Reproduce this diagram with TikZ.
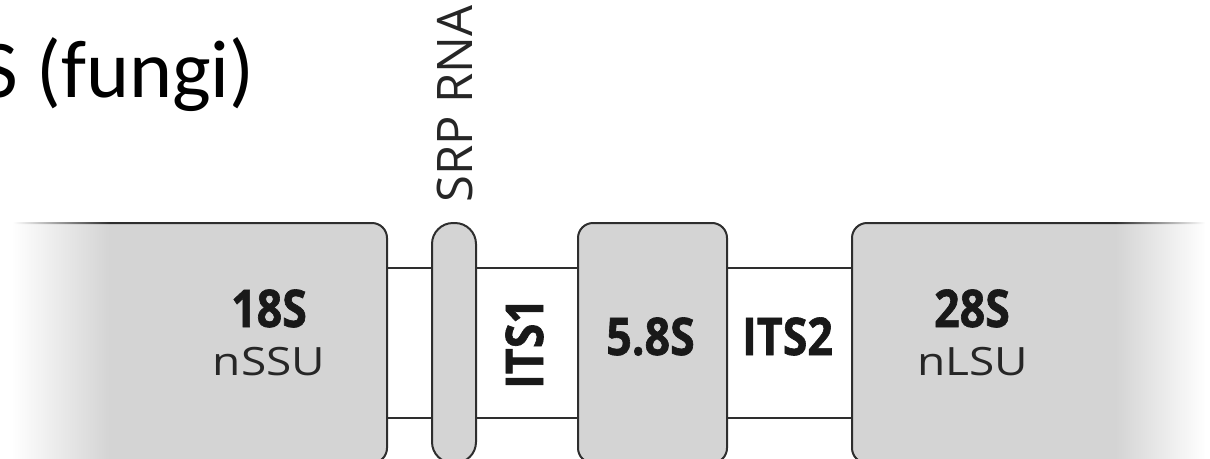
\documentclass[tikz,border=0pt]{standalone}
\usepackage{fontspec}
\usetikzlibrary{fadings}
\setmainfont{Open Sans}
\newfontfamily\titlefont{Carlito}
\newfontfamily\boldlab[FakeStretch=0.86,BoldFeatures={FakeBold=1.2}]{Open Sans}
\newfontfamily\reglab[FakeStretch=1.18]{Open Sans}
\definecolor{boxgray}{HTML}{D4D4D4}
\definecolor{edge}{HTML}{2E2E2E}
\tikzfading[name=fadetoright, left color=transparent!0, right color=transparent!100]
\tikzfading[name=fadetoleft, left color=transparent!100, right color=transparent!0]
\tikzset{
  seg/.style={draw=edge, fill=boxgray, line width=2pt, rounded corners=15pt, inner sep=0pt, minimum height=240pt},
  pill/.style={draw=edge, fill=boxgray, line width=2pt, rounded corners=21pt, inner sep=0pt, minimum height=240pt, minimum width=44pt},
  link/.style={draw=edge, line width=2pt},
  boldtxt/.style={font=\boldlab\bfseries\fontsize{52}{60}\selectfont, text=black!90, inner sep=0pt, anchor=base},
  regtxt/.style={font=\reglab\fontsize{39}{46}\selectfont, text=black!85, inner sep=0pt, anchor=base},
}
\begin{document}
\begin{tikzpicture}[x=1pt,y=-1pt]
\useasboundingbox (0,0) rectangle (1210,458);
\clip (0,0) rectangle (1210,458);
% title
\node[font=\titlefont\fontsize{82}{96}\selectfont, inner sep=0pt, anchor=base east] (title) at (255,97) {S (fungi)};
% segments
\node[seg, minimum width=430pt] (b18) at (172,343) {};
\node[pill] (srp) at (454,343) {};
\node[seg, minimum width=149pt] (b58) at (652.5,343) {};
\node[seg, minimum width=400pt] (b28) at (1052,343) {};
% connectors
\draw[link] ([yshift=75pt]b18.east) -- ([yshift=75pt]srp.west);
\draw[link] ([yshift=-75pt]b18.east) -- ([yshift=-75pt]srp.west);
\draw[link] ([yshift=75pt]srp.east) -- ([yshift=75pt]b58.west);
\draw[link] ([yshift=-75pt]srp.east) -- ([yshift=-75pt]b58.west);
\draw[link] ([yshift=75pt]b58.east) -- ([yshift=75pt]b28.west);
\draw[link] ([yshift=-75pt]b58.east) -- ([yshift=-75pt]b28.west);
% fades at both ends
\fill[white] (-5,210) rectangle (13,470);
\fill[white, path fading=fadetoright] (13,210) rectangle (110,470);
\fill[white, path fading=fadetoleft] (1115,210) rectangle (1205,470);
\fill[white] (1205,210) rectangle (1215,470);
% labels
\node[boldtxt] (l18) at (269,327) {18S};
\node[regtxt] (lnssu) at (269,375) {nSSU};
\node[boldtxt] (l58) at (650.5,355) {5.8S};
\node[boldtxt] (lits2) at (787.5,355) {ITS2};
\node[boldtxt] (l28) at (972,327) {28S};
\node[regtxt] (lnlsu) at (973,375) {nLSU};
\node[boldtxt, rotate=90] (lits1) at (543,343.5) {ITS1};
\node[font=\fontsize{49}{56}\selectfont, text=black!85, inner sep=0pt, anchor=base, rotate=90] (lsrp) at (472,104) {SRP RNA};
\end{tikzpicture}
\end{document}
